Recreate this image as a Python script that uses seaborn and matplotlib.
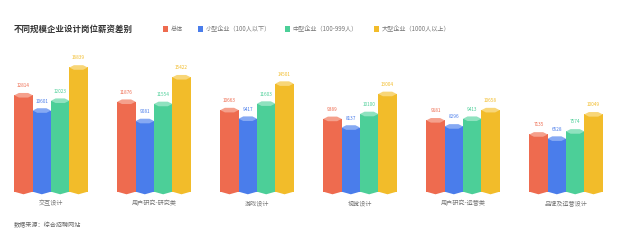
import matplotlib
matplotlib.use("Agg")
import matplotlib.pyplot as plt
from matplotlib.patches import Polygon, Rectangle
import seaborn as sns
import pandas as pd

categories = ["交互设计", "用户研究-研究类", "游戏设计", "视觉设计", "用户研究-运营类", "品牌及运营设计"]
series_names = ["总体", "小型企业（100人以下）", "中型企业（100-999人）", "大型企业（1000人以上）"]
overall = [12814, 11876, 10663, 9389, 9181, 7135]
small = [10601, 9081, 9417, 8137, 8296, 6528]
medium = [12023, 11554, 11603, 10100, 9413, 7574]
large = [16839, 15422, 14501, 13004, 10658, 10049]
colors = ["#EE6B4F", "#4A7DEB", "#4CCF98", "#F2BC2A"]
cap_colors = ["#F5A08C", "#86A9F3", "#8FE2BF", "#F8D678"]

rows = []
for name, vals in zip(series_names, [overall, small, medium, large]):
    for cat, v in zip(categories, vals):
        rows.append({"岗位": cat, "类型": name, "薪资": v})
df = pd.DataFrame(rows)

sns.set_theme(style="white")
plt.rcParams["font.family"] = ["Noto Sans CJK SC", "DejaVu Sans"]

W, H = 621, 241
fig = plt.figure(figsize=(W / 100, H / 100), dpi=100)
ax_h = 150
base_px = 241 - 191.7
ax = fig.add_axes([0, base_px / H, 1, ax_h / H])

sns.barplot(data=df, x="岗位", y="薪资", hue="类型", order=categories,
            hue_order=series_names, palette=colors, width=0.712, gap=0,
            saturation=1, legend=False, ax=ax, linewidth=0, errorbar=None)

# value axis starts a little below zero so the columns stand on a floor
floor = -1160
units_per_px = 144.9
ax.set_ylim(floor, floor + ax_h * units_per_px)
ax.set_xlim(-51 / 103, (W - 51) / 103)
px_y = units_per_px

for ci, cont in enumerate(ax.containers):
    for bar in cont:
        x0 = bar.get_x()
        w = bar.get_width()
        x1 = x0 + w
        xc = x0 + w / 2
        top = bar.get_height()
        bar.set_y(floor)
        bar.set_height(top - floor)
        # light cap on top of the column
        cap = Polygon([(x0, top), (x0 + w * 0.25, top + 2.3 * px_y), (x1 - w * 0.25, top + 2.3 * px_y),
                       (x1, top), (x1 - w * 0.25, top - 2.3 * px_y), (x0 + w * 0.25, top - 2.3 * px_y)],
                      closed=True, facecolor=cap_colors[ci], edgecolor="none", zorder=3)
        ax.add_patch(cap)
        # pointed foot under the floor
        foot = Polygon([(x0, floor), (xc, floor - 2.6 * px_y), (x1, floor)],
                       closed=True, facecolor=colors[ci], edgecolor="none", zorder=3,
                       clip_on=False)
        ax.add_patch(foot)
        ax.text(xc, top + 9.5 * px_y, f"{int(top)}", ha="center", va="center",
                fontsize=3.4, color=colors[ci])

ax.set_axis_off()

for i, cat in enumerate(categories):
    ax.text(i, floor - 11.6 * px_y, cat, ha="center", va="center", fontsize=4.4,
            color="#777777", clip_on=False)

fig.text(14 / W, 1 - 29 / H, "不同规模企业设计岗位薪资差别", ha="left", va="center",
         fontsize=6.1, fontweight="bold", color="#333333")
fig.text(14 / W, 1 - 225 / H, "数据来源：综合招聘网站", ha="left", va="center",
         fontsize=4.4, color="#666666")

# legend row next to the title
legend_x = [163, 198, 285, 374]
sq = 5.0
for lx, name, c in zip(legend_x, series_names, colors):
    fig.patches.append(Rectangle((lx / W, 1 - (29 + sq / 2) / H), sq / W, sq / H,
                                 transform=fig.transFigure, facecolor=c, edgecolor="none"))
    fig.text((lx + sq + 2.5) / W, 1 - 29 / H, name, ha="left", va="center",
             fontsize=4.4, color="#777777")

fig.savefig("out.png", dpi=100, facecolor="white")
